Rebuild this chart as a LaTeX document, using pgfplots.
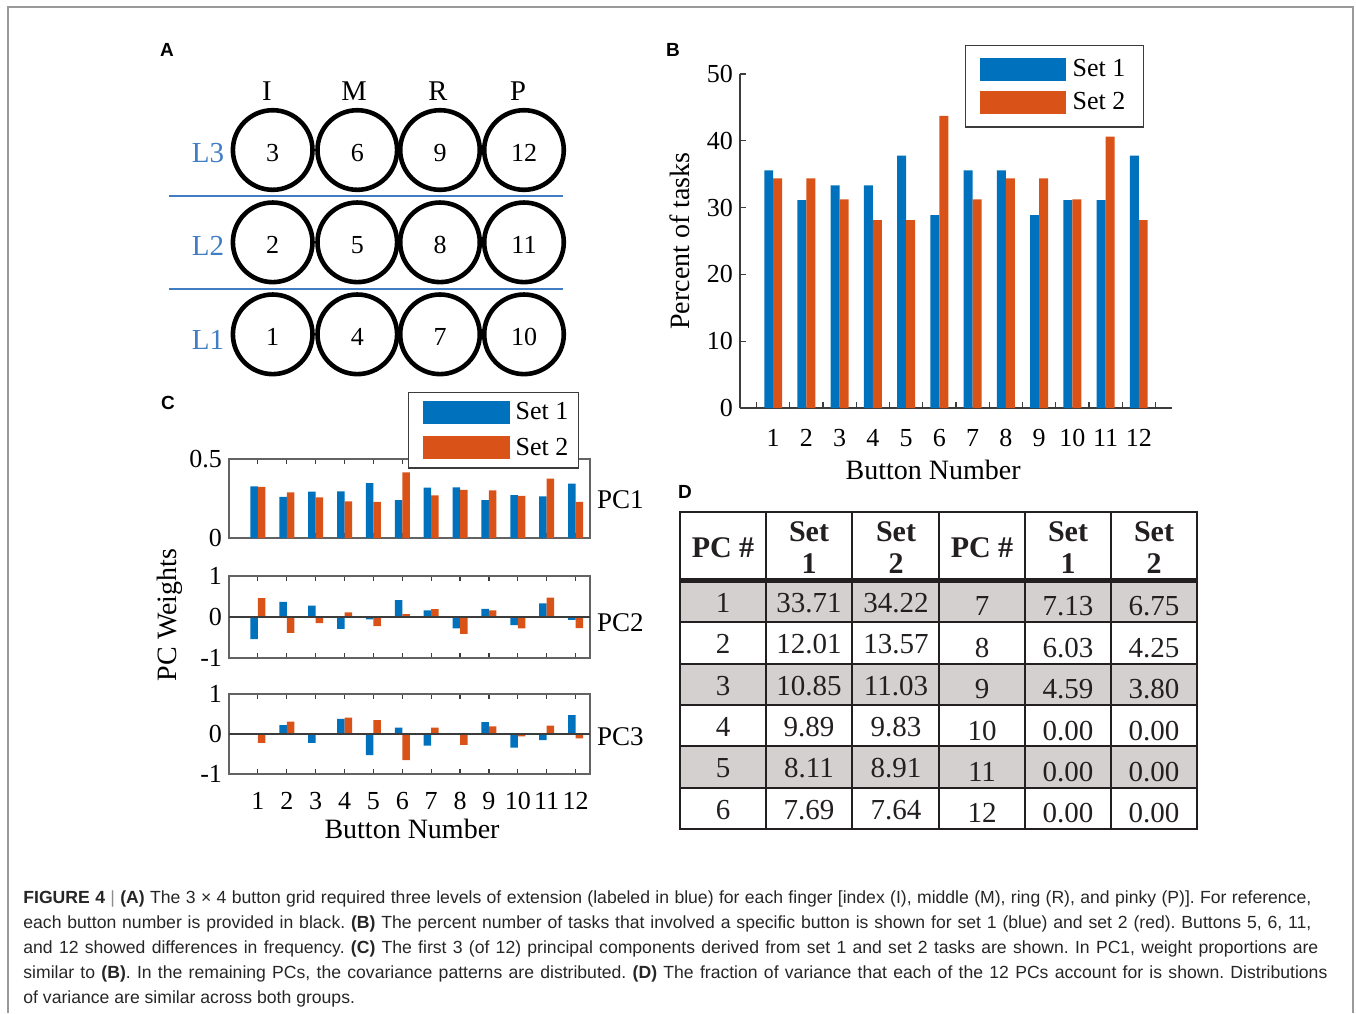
\documentclass[border=0pt]{standalone}
\usepackage{pgfplots}
\pgfplotsset{compat=1.18}
\usepackage{pgfplotstable}
\usepackage{fontspec}
\setmainfont{Liberation Serif}
\newfontfamily\capfont{Liberation Sans}
\definecolor{mblue}{RGB}{0,114,189}
\definecolor{mred}{RGB}{217,83,25}
\definecolor{lblue}{RGB}{65,125,195}
\definecolor{tgray}{RGB}{212,208,208}
\definecolor{axgray}{RGB}{60,60,60}
\definecolor{tline}{RGB}{35,31,32}
\newcommand{\fs}[1]{\fontsize{#1}{#1}\selectfont}

\pgfplotsset{barlegend/.style={legend image code/.code={\fill[##1] (0pt,-5.75pt) rectangle (43pt,5.75pt);}},
  barlegendC/.style={legend image code/.code={\path (0pt,0pt); \fill[##1] (4pt,-5.75pt) rectangle (47.5pt,5.75pt);}}}

% Panel B: percent of tasks
\pgfplotstableread{
x set1 set2
1 35.56 34.38
2 31.11 34.38
3 33.33 31.25
4 33.33 28.13
5 37.78 28.13
6 28.89 43.75
7 35.56 31.25
8 35.56 34.38
9 28.89 34.38
10 31.11 31.25
11 31.11 40.63
12 37.78 28.13
}\tabB

% Panel C: PC weights
\pgfplotstableread{
x pc1a pc1b pc2a pc2b pc3a pc3b
1 0.327 0.323 -0.54 0.46 0.01 -0.22
2 0.260 0.289 0.37 -0.39 0.22 0.31
3 0.293 0.257 0.28 -0.15 -0.22 0.01
4 0.295 0.232 -0.29 0.11 0.38 0.41
5 0.348 0.228 -0.06 -0.22 -0.53 0.35
6 0.240 0.416 0.41 0.07 0.16 -0.65
7 0.319 0.270 0.16 0.19 -0.29 0.16
8 0.321 0.304 -0.28 -0.41 -0.01 -0.27
9 0.240 0.302 0.20 0.16 0.30 0.19
10 0.272 0.266 -0.20 -0.28 -0.34 -0.06
11 0.264 0.376 0.33 0.47 -0.15 0.21
12 0.344 0.228 -0.07 -0.27 0.47 -0.11
}\tabC

% Panel A: button grid (pixel positions)
\pgfplotstableread{
x y lab
272.7 150 3
357.3 150 6
440 150 9
524 150 12
272.7 242.3 2
357.3 242.3 5
440 242.3 8
524 242.3 11
272.7 334.3 1
357.3 334.3 4
440 334.3 7
524 334.3 10
}\tabA

% Panel D: variance table
\pgfplotstableread[col sep=comma]{
x,y,lab
723,548,PC \#
809,532,Set
809,564,1
896,532,Set
896,564,2
982,548,PC \#
1068,532,Set
1068,564,1
1154,532,Set
1154,564,2
}\tabDh

\pgfplotstableread[col sep=comma]{
x,y,lab
723,603,1
809,603,33.71
896,603,34.22
982,606,7
1068,606,7.13
1154,606,6.75
723,644,2
809,644,12.01
896,644,13.57
982,648,8
1068,648,6.03
1154,648,4.25
723,686,3
809,686,10.85
896,686,11.03
982,689,9
1068,689,4.59
1154,689,3.80
723,727,4
809,727,9.89
896,727,9.83
982,731,10
1068,731,0.00
1154,731,0.00
723,768,5
809,768,8.11
896,768,8.91
982,772,11
1068,772,0.00
1154,772,0.00
723,810,6
809,810,7.69
896,810,7.64
982,813,12
1068,813,0.00
1154,813,0.00
}\tabD

\begin{document}
\frenchspacing
\begin{tikzpicture}
\useasboundingbox (0,0) rectangle (678pt,-506.5pt);

% ---------- background axis in pixel units (panel A, table D, frame) ----------
\begin{axis}[at={(0pt,-506.5pt)}, anchor=south west, scale only axis,
  width=678pt, height=506.5pt, xmin=0, xmax=1356, ymin=0, ymax=1013,
  y dir=reverse, hide axis, clip=false]
\draw[black!40, line width=0.7pt] (8,1013) -- (8,7) -- (1353,7) -- (1353,1013);
% Panel A
\draw[lblue, line width=1.1pt] (169,196) -- (563,196);
\draw[lblue, line width=1.1pt] (169,289) -- (563,289);
\addplot[only marks, mark=o, mark size=19.9pt, mark options={draw=black, line width=2.3pt},
  nodes near coords, point meta=explicit symbolic, nodes near coords align=center,
  every node near coord/.append style={font=\fs{13}, text=black, anchor=center, yshift=-1.5pt}]
  table[x=x, y=y, meta=lab] {\tabA};
\node[font=\fs{14.3}] at (267,91) {I};
\node[font=\fs{14.3}] at (354,91) {M};
\node[font=\fs{14.3}] at (438,91) {R};
\node[font=\fs{14.3}] at (518,91) {P};
\node[font=\fs{14.5}, text=lblue] at (208,153) {L3};
\node[font=\fs{14.5}, text=lblue] at (208,246) {L2};
\node[font=\fs{14.5}, text=lblue] at (208,340) {L1};
% Panel D table
\fill[tgray] (680,581) rectangle (1197,622.3);
\fill[tgray] (680,663.7) rectangle (1197,705);
\fill[tgray] (680,746.3) rectangle (1197,787.7);
\draw[tline, line width=1.15pt] (680,622.3) -- (1197,622.3);
\draw[tline, line width=1.15pt] (680,663.7) -- (1197,663.7);
\draw[tline, line width=1.15pt] (680,705) -- (1197,705);
\draw[tline, line width=1.15pt] (680,746.3) -- (1197,746.3);
\draw[tline, line width=1.15pt] (680,787.7) -- (1197,787.7);
\draw[tline, line width=1.15pt] (766,512) -- (766,829);
\draw[tline, line width=1.15pt] (852,512) -- (852,829);
\draw[tline, line width=1.15pt] (939,512) -- (939,829);
\draw[tline, line width=1.15pt] (1025,512) -- (1025,829);
\draw[tline, line width=1.15pt] (1111,512) -- (1111,829);
\draw[tline, line width=2.1pt] (680,580.5) -- (1197,580.5);
\draw[tline, line width=1.4pt] (680,512) rectangle (1197,829);
\addplot[only marks, mark=none, nodes near coords, point meta=explicit symbolic,
  nodes near coords align=center,
  every node near coord/.append style={font=\bfseries\fs{15}, text=tline, anchor=center}]
  table[x=x, y=y, meta=lab] {\tabDh};
\addplot[only marks, mark=none, nodes near coords, point meta=explicit symbolic,
  nodes near coords align=center,
  every node near coord/.append style={font=\fs{14.5}, text=tline, anchor=center}]
  table[x=x, y=y, meta=lab] {\tabD};
\end{axis}

% ---------- Panel B ----------
\begin{axis}[at={(370pt,-204pt)}, anchor=south west, scale only axis,
  width=216pt, height=167pt,
  xmin=0, xmax=13, ymin=0, ymax=50,
  axis x line*=bottom, axis y line*=left,
  axis line style={axgray, line width=0.6pt},
  xtick={1,2,3,4,5,6,7,8,9,10,11,12},
  xticklabels={1,2,3,4,5,6,7,8,9,10,11,12},
  major x tick style={draw=none},
  minor xtick={0.5,1.5,2.5,3.5,4.5,5.5,6.5,7.5,8.5,9.5,10.5,11.5,12.5},
  ytick={0,10,20,30,40,50}, yticklabels={0,10,20,30,40,50},
  tick align=inside, major tick length=3pt, minor tick length=3pt,
  tick style={axgray, line width=0.6pt},
  tick label style={font=\fs{13}},
  xticklabel shift=7pt,
  xlabel={Button Number}, ylabel={Percent of tasks},
  label style={font=\fs{14}},
  xlabel style={at={(axis description cs:0.447,-0.186)}, anchor=center},
  ylabel style={at={(axis description cs:-0.139,0.5)}, anchor=center},
  legend style={at={(axis description cs:0.521,1.087)}, anchor=north west,
    draw=axgray, line width=0.6pt, font=\fs{13}, inner xsep=7pt, inner ysep=5pt,
    row sep=2.5pt, column sep=1.5pt, nodes={inner sep=2pt}},
  legend cell align=left]
\addplot[ybar, bar width=0.27, bar shift=-0.135, fill=mblue, draw=none, barlegend] table[x=x, y=set1] {\tabB};
\addplot[ybar, bar width=0.27, bar shift=0.135, fill=mred, draw=none, barlegend] table[x=x, y=set2] {\tabB};
\legend{Set 1, Set 2}
\end{axis}

% ---------- Panel C ----------
\pgfplotsset{pcaxis/.style={anchor=south west, scale only axis, width=180.5pt,
  xmin=0, xmax=12.5, clip=false,
  axis line style={axgray!80, line width=0.6pt},
  xtick={1,2,3,4,5,6,7,8,9,10,11,12},
  tick align=inside, major tick length=2.5pt,
  tick style={axgray, line width=0.6pt},
  tick label style={font=\fs{13}}}}
\begin{axis}[pcaxis, at={(114.5pt,-269pt)}, height=39.5pt,
  ymin=0, ymax=0.5, ytick={0,0.5}, yticklabels={0,0.5}, xticklabels={},
  legend style={at={(axis description cs:0.496,1.848)}, anchor=north west,
    draw=axgray, line width=0.6pt, font=\fs{13}, inner xsep=3pt, inner ysep=3pt,
    row sep=3.5pt, column sep=1pt, nodes={inner sep=2pt}},
  legend cell align=left]
\addplot[ybar, bar width=0.26, bar shift=-0.13, fill=mblue, draw=none, barlegendC] table[x=x, y=pc1a] {\tabC};
\addplot[ybar, bar width=0.26, bar shift=0.13, fill=mred, draw=none, barlegendC] table[x=x, y=pc1b] {\tabC};
\legend{Set 1, Set 2}
\node[anchor=west, font=\fs{13.5}] at (rel axis cs:1,0.48) {PC1};
\end{axis}

\begin{axis}[pcaxis, at={(114.5pt,-329pt)}, height=41pt,
  ymin=-1, ymax=1, ytick={-1,0,1}, yticklabels={-1,0,1}, xticklabels={}]
\addplot[ybar, bar width=0.26, bar shift=-0.13, fill=mblue, draw=none] table[x=x, y=pc2a] {\tabC};
\addplot[ybar, bar width=0.26, bar shift=0.13, fill=mred, draw=none] table[x=x, y=pc2b] {\tabC};
\addplot[axgray, line width=0.6pt, mark=none] coordinates {(0,0) (12.5,0)};
\node[anchor=west, font=\fs{13.5}] at (rel axis cs:1,0.43) {PC2};
\end{axis}

\begin{axis}[pcaxis, at={(114.5pt,-387pt)}, height=40pt,
  ymin=-1, ymax=1, ytick={-1,0,1}, yticklabels={-1,0,1},
  xticklabels={1,2,3,4,5,6,7,8,9,10,11,12}, xticklabel shift=5.5pt,
  xlabel={Button Number}, label style={font=\fs{14}},
  xlabel style={at={(axis description cs:0.507,-0.6875)}, anchor=center}]
\addplot[ybar, bar width=0.26, bar shift=-0.13, fill=mblue, draw=none] table[x=x, y=pc3a] {\tabC};
\addplot[ybar, bar width=0.26, bar shift=0.13, fill=mred, draw=none] table[x=x, y=pc3b] {\tabC};
\addplot[axgray, line width=0.6pt, mark=none] coordinates {(0,0) (12.5,0)};
\node[anchor=west, font=\fs{13.5}] at (rel axis cs:1,0.47) {PC3};
\end{axis}

\node[rotate=90, font=\fs{14}] at (85pt,-307.5pt) {PC Weights};

% ---------- panel letters ----------
\node[font=\capfont\bfseries\fs{9.5}] at (83.5pt,-25pt) {A};
\node[font=\capfont\bfseries\fs{9.5}] at (336.5pt,-25pt) {B};
\node[font=\capfont\bfseries\fs{9.5}] at (84pt,-201.5pt) {C};
\node[font=\capfont\bfseries\fs{9.5}] at (342.5pt,-246pt) {D};

% ---------- caption ----------
\begin{scope}[every node/.style={anchor=base west, inner sep=0pt, text=black!85,
  font=\capfont\fontsize{8.8}{10}\selectfont}]
\node at (11.5pt,-451.5pt) {\makebox[644pt][s]{\textbf{FIGURE 4} {\color{black!45}|} \textbf{(A)} The 3 × 4 button grid required three levels of extension (labeled in blue) for each finger [index (I), middle (M), ring (R), and pinky (P)]. For reference,}};
\node at (11.5pt,-464pt) {\makebox[644pt][s]{each button number is provided in black. \textbf{(B)} The percent number of tasks that involved a specific button is shown for set 1 (blue) and set 2 (red). Buttons 5, 6, 11,}};
\node at (11.5pt,-476.5pt) {\makebox[647.5pt][s]{and 12 showed differences in frequency. \textbf{(C)} The first 3 (of 12) principal components derived from set 1 and set 2 tasks are shown. In PC1, weight proportions are}};
\node at (11.5pt,-489pt) {\makebox[652pt][s]{similar to \textbf{(B)}. In the remaining PCs, the covariance patterns are distributed. \textbf{(D)} The fraction of variance that each of the 12 PCs account for is shown. Distributions}};
\node at (11.5pt,-501.5pt) {of variance are similar across both groups.};
\end{scope}
\end{tikzpicture}
\end{document}
